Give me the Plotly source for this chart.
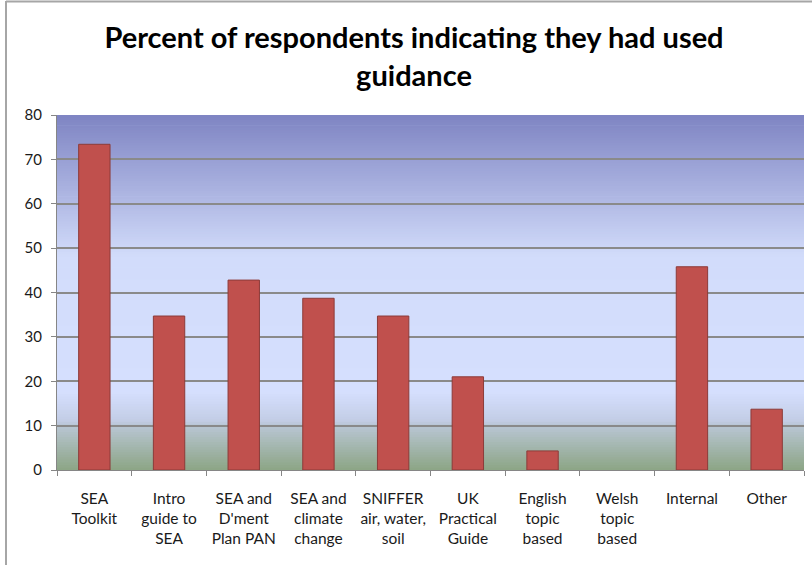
import plotly.graph_objects as go

# Survey results: share of respondents who had used each guidance document
categories = [
    "SEA<br>Toolkit",
    "Intro<br>guide to<br>SEA",
    "SEA and<br>D'ment<br>Plan PAN",
    "SEA and<br>climate<br>change",
    "SNIFFER<br>air, water,<br>soil",
    "UK<br>Practical<br>Guide",
    "English<br>topic<br>based",
    "Welsh<br>topic<br>based",
    "Internal",
    "Other",
]
percent_used = [73.4, 34.7, 42.8, 38.7, 34.7, 21.0, 4.3, 0.0, 45.8, 13.7]
y_ticks = [0, 10, 20, 30, 40, 50, 60, 70, 80]

W, H = 812, 565
L, R, T, B = 57, 8, 115, 95
FONT = "Lato, Carlito, 'Open Sans', sans-serif"


def hex_to_rgb(h):
    h = h.lstrip("#")
    return tuple(int(h[i:i + 2], 16) for i in (0, 2, 4))


def lerp_color(stops, t):
    for (t0, c0), (t1, c1) in zip(stops, stops[1:]):
        if t0 <= t <= t1:
            f = 0 if t1 == t0 else (t - t0) / (t1 - t0)
            a, b = hex_to_rgb(c0), hex_to_rgb(c1)
            return "rgb(%d,%d,%d)" % tuple(round(x + (y - x) * f) for x, y in zip(a, b))
    return stops[-1][1]


# Vertical gradient fill for the plot area (t=0 top, t=1 bottom)
grad_stops = [
    (0.00, "#7e84c2"),
    (0.40, "#d2dcfb"),
    (0.78, "#d5dffe"),
    (0.86, "#c3cde6"),
    (0.875, "#b9c6d4"),
    (1.00, "#8ca585"),
]
shapes = []
n_strips = 140
for i in range(n_strips):
    t_mid = (i + 0.5) / n_strips
    shapes.append(dict(
        type="rect", xref="x domain", yref="y domain", layer="below",
        x0=0, x1=1, y1=1 - i / n_strips, y0=1 - (i + 1) / n_strips - 0.002,
        fillcolor=lerp_color(grad_stops, t_mid), line=dict(width=0),
    ))

# Outer chart-area border (left and top edges visible)
pw, ph = W - L - R, H - T - B
px = lambda x: (x - L) / pw
py = lambda y: 1 - (y - T) / ph
shapes.append(dict(type="line", xref="paper", yref="paper",
                   x0=px(6), x1=px(6), y0=py(1), y1=py(H + 10),
                   line=dict(color="#a6a6a6", width=2)))
shapes.append(dict(type="line", xref="paper", yref="paper",
                   x0=px(6), x1=px(W + 10), y0=py(1.5), y1=py(1.5),
                   line=dict(color="#a6a6a6", width=2)))

# no outline on empty bars
outline_widths = [1 if v > 0 else 0 for v in percent_used]

fig = go.Figure(go.Bar(
    x=categories,
    y=percent_used,
    marker=dict(color="#c0504d", line=dict(color="#8c3b39", width=outline_widths)),
    hoverinfo="x+y",
))

fig.update_layout(
    width=W, height=H,
    margin=dict(l=L, r=R, t=T, b=B),
    paper_bgcolor="white",
    plot_bgcolor="#d5dffe",
    bargap=0.58,
    showlegend=False,
    shapes=shapes,
    title=dict(
        text="<b>Percent of respondents indicating they had used<br>guidance</b>",
        x=px(414), xanchor="center", xref="paper",
        y=1 - 48 / H, yanchor="middle",
        font=dict(family=FONT, size=29, color="#000000"),
    ),
    font=dict(family=FONT, size=16, color="#1a1a1a"),
)

fig.update_xaxes(
    type="category",
    showgrid=False,
    showline=True, linecolor="#868686", linewidth=1,
    ticks="outside", ticklen=5, tickcolor="#868686",
    tickson="boundaries",
    ticklabelstandoff=14,
    tickfont=dict(family=FONT, size=15.5, color="#1a1a1a"),
)
fig.update_yaxes(
    range=[0, 80],
    tickvals=y_ticks,
    showgrid=True, gridcolor="#8a8a8a", gridwidth=1.5,
    showline=True, linecolor="#868686", linewidth=1,
    ticks="outside", ticklen=5, tickcolor="#868686",
    ticklabelstandoff=6,
    zeroline=False,
    tickfont=dict(family=FONT, size=15, color="#1a1a1a"),
)

fig.write_html("out.html")
